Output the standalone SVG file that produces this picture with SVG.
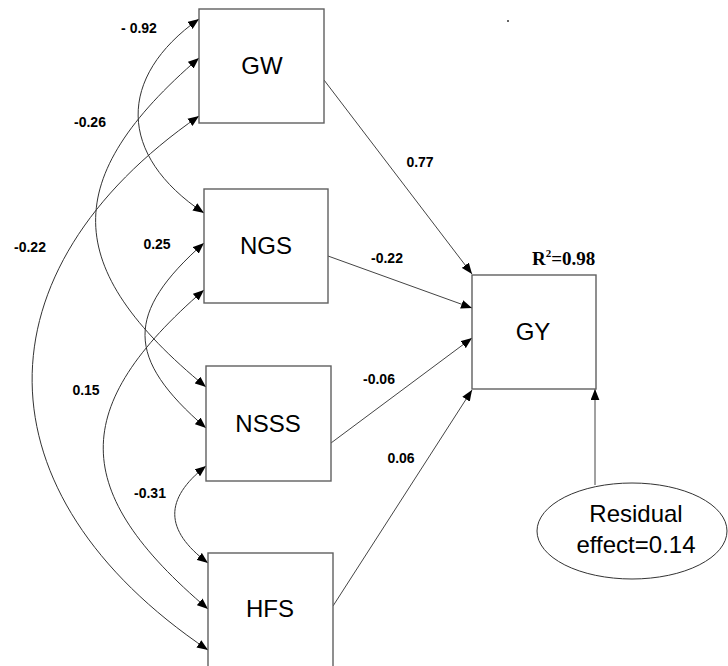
<svg xmlns="http://www.w3.org/2000/svg" width="728" height="666" viewBox="0 0 728 666">
<defs>
<marker id="ah" viewBox="0 0 10 8" refX="10" refY="4" markerWidth="11" markerHeight="9" markerUnits="userSpaceOnUse" orient="auto-start-reverse">
<path d="M0,0 L10,4 L0,8 z" fill="#000"/>
</marker>
<style>
.box{fill:#fff;stroke:#606060;stroke-width:1.4}
.lbl{font-family:"Liberation Sans",Arial,sans-serif;font-size:24px;fill:#000;text-anchor:middle}
.coef{font-family:"Liberation Sans",Arial,sans-serif;font-size:14px;font-weight:bold;fill:#000;text-anchor:middle}
.con{fill:none;stroke:#333;stroke-width:1}
.cor{fill:none;stroke:#333;stroke-width:1;marker-start:url(#ah);marker-end:url(#ah)}
.dir{fill:none;stroke:#444;stroke-width:1;marker-end:url(#ah)}
</style>
</defs>
<rect width="728" height="666" fill="#fff"/>
<g id="connectors">
<path class="cor" d="M199,19 C117,77 117,155 204,213"/>
<path class="cor" d="M199,58 C60,178 60,267 206,387"/>
<path class="cor" d="M199,116 C-25,271 -25,493 208,650"/>
<path class="cor" d="M204,243 C125,313 125,358 206,428"/>
<path class="cor" d="M204,290 C69,407 69,491 208,609"/>
<path class="cor" d="M206,466 C164,499 164,530 208,563"/>
<path class="dir" d="M324,80 L472,274"/>
<path class="dir" d="M328,256 L472,308"/>
<path class="dir" d="M331,443 L472,338"/>
<path class="dir" d="M333,606 L472,390"/>
<path class="dir" d="M595,485 L595,389"/>
</g>
<g id="GW"><rect class="box" x="199" y="9" width="125" height="114"/><text class="lbl" x="262" y="74">GW</text></g>
<g id="NGS"><rect class="box" x="204" y="189" width="124" height="114"/><text class="lbl" x="266" y="254">NGS</text></g>
<g id="NSSS"><rect class="box" x="206" y="366" width="125" height="115"/><text class="lbl" x="268" y="432">NSSS</text></g>
<g id="HFS"><rect class="box" x="208" y="553" width="125" height="120"/><text class="lbl" x="270" y="617">HFS</text></g>
<g id="GY"><rect class="box" x="472" y="275" width="124" height="114"/><text class="lbl" x="533" y="340">GY</text></g>
<g id="Residual"><ellipse cx="632" cy="531" rx="95" ry="48" fill="#fff" stroke="#333" stroke-width="1"/><text class="lbl" x="636" y="522">Residual</text><text class="lbl" x="636" y="553">effect=0.14</text></g>
<g id="labels">
<text class="coef" x="139" y="33">- 0.92</text>
<text class="coef" x="90" y="127">-0.26</text>
<text class="coef" x="30" y="252">-0.22</text>
<text class="coef" x="157" y="249">0.25</text>
<text class="coef" x="86" y="395">0.15</text>
<text class="coef" x="150" y="498">-0.31</text>
<text class="coef" x="420" y="167">0.77</text>
<text class="coef" x="387" y="263">-0.22</text>
<text class="coef" x="379" y="384">-0.06</text>
<text class="coef" x="401" y="463">0.06</text>
<text x="532" y="265" font-family="'Liberation Serif','Times New Roman',serif" font-size="19" font-weight="bold" fill="#000">R<tspan font-size="11" dy="-8">2</tspan><tspan dy="8">=0.98</tspan></text>
</g>
<rect x="507" y="20" width="2" height="2" fill="#666"/>
</svg>
